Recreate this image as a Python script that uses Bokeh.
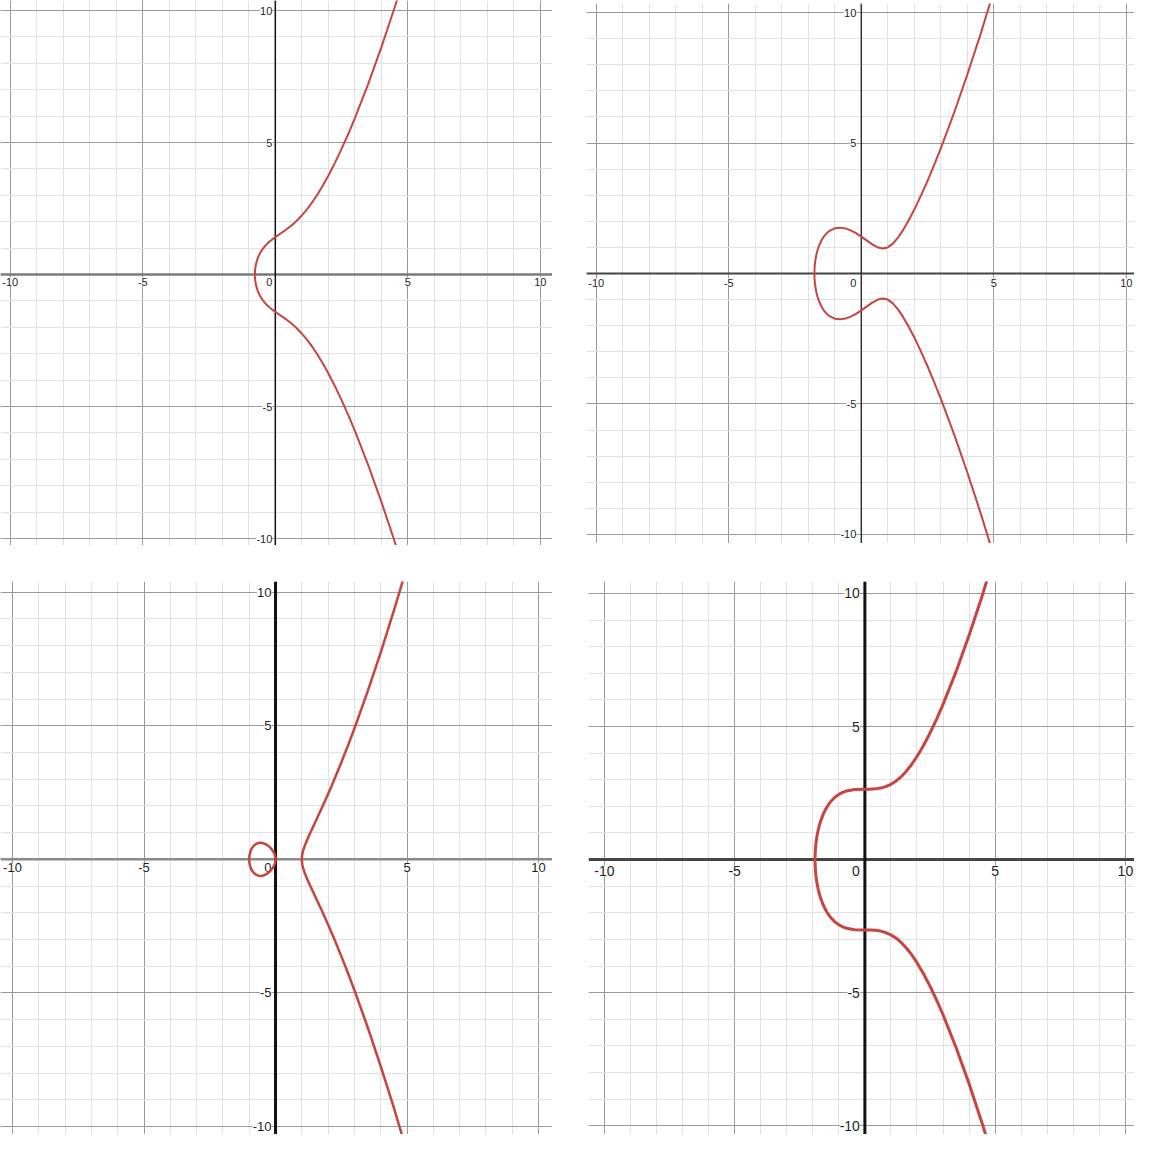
from bokeh.plotting import figure
from bokeh.models import Grid, SingleIntervalTicker, Span, LabelSet, ColumnDataSource, Spacer
from bokeh.layouts import column, row
from bokeh.core.properties import value
from bokeh.embed import file_html
from bokeh.resources import INLINE

# ---------------- data ----------------
# top-left curve (upper half; lower half is its mirror)
tl_x = [-0.771, -0.768, -0.76, -0.74, -0.70, -0.65, -0.6, -0.5, -0.4, -0.3, -0.2, -0.1, 0.0,
        0.2, 0.4, 0.6, 0.8, 1.0, 1.15, 1.3, 1.45, 1.6, 1.8, 2.0, 2.25, 2.5, 2.75, 3.0, 3.5, 4.0, 4.5, 4.8]
tl_y = [0.0, 0.105, 0.2025, 0.3388, 0.507, 0.6522, 0.7642, 0.9354, 1.0658, 1.1718, 1.2617, 1.3413, 1.4142,
        1.5518, 1.6923, 1.8483, 2.0278, 2.2361, 2.4127, 2.6071, 2.8194, 3.049, 3.3811, 3.7417, 4.2297, 4.7566,
        5.3195, 5.9161, 7.2024, 8.6023, 10.1057, 11.054]

# top-right curve
tr_x = [-1.7693, -1.768, -1.765, -1.755, -1.74, -1.70, -1.65, -1.6, -1.5, -1.4, -1.3, -1.2, -1.0, -0.8,
        -0.6, -0.4, -0.2, 0.0, 0.2, 0.4, 0.6, 0.8, 1.0, 1.2, 1.4, 1.6, 1.8, 2.0, 2.25, 2.5, 2.75, 3.0, 3.5,
        4.0, 4.5, 5.0]
tr_y = [0.0, 0.098, 0.1778, 0.3234, 0.4604, 0.6979, 0.8988, 1.0507, 1.2748, 1.4339, 1.5502, 1.6346, 1.7321, 1.7573,
        1.7274, 1.6541, 1.5466, 1.4142, 1.2681, 1.1243, 1.008, 0.955, 1.0, 1.1524, 1.3943, 1.7018, 2.0572, 2.4495,
        2.9817, 3.5532, 4.159, 4.7958, 6.1543, 7.6158, 9.172, 10.8167]

# bottom-left: closed loop (upper half) and right branch (upper half)
bl_loop_x = [-1.0, -0.995, -0.98, -0.95, -0.9, -0.8, -0.7, -0.6, -0.5774, -0.5, -0.4, -0.3, -0.2, -0.1,
             -0.05, -0.02, -0.005, 0.0]
bl_loop_y = [0.0, 0.0996, 0.197, 0.3043, 0.4135, 0.5367, 0.5975, 0.6197, 0.6204, 0.6124, 0.5797, 0.5225,
             0.4382, 0.3146, 0.2233, 0.1414, 0.0707, 0.0]
bl_branch_x = [1.0, 1.005, 1.02, 1.05, 1.1, 1.2, 1.3, 1.4, 1.5, 1.75, 2.0, 2.25, 2.5, 2.75, 3.0, 3.5, 4.0,
               4.5, 5.0]
bl_branch_y = [0.0, 0.1004, 0.203, 0.3281, 0.4806, 0.7266, 0.9471, 1.1593, 1.3693, 1.8999, 2.4495, 3.0234,
               3.6228, 4.2482, 4.899, 6.275, 7.746, 9.3073, 10.9545]

# bottom-right curve
br_x = [-1.9129, -1.912, -1.91, -1.90, -1.88, -1.85, -1.8, -1.75, -1.7, -1.6, -1.5, -1.4, -1.3, -1.15, -1.0,
        -0.85, -0.7, -0.4, 0.0, 0.2, 0.4, 0.6, 0.8, 1.0, 1.2, 1.4, 1.6, 1.8, 2.0, 2.25, 2.5, 2.75, 3.0, 3.5,
        4.0, 4.5, 5.0]
br_y = [0.0, 0.0994, 0.1792, 0.3755, 0.5961, 0.8175, 1.0807, 1.2809, 1.4446, 1.7041, 1.9039, 2.063, 2.1916,
        2.3407, 2.4495, 2.527, 2.5801, 2.6336, 2.6458, 2.6473, 2.6578, 2.6863, 2.7408, 2.8284, 2.9543, 3.1215,
        3.3311, 3.5822, 3.873, 4.2884, 4.7566, 5.2723, 5.831, 7.0622, 8.4261, 9.9058, 11.4891]

# tick labels
x_ticks = [-10, -5, 5, 10]
x_tick_labels = ["-10", "-5", "5", "10"]
y_ticks = [10, 5, -5, -10]
y_tick_labels = ["10", "5", "-5", "-10"]

RED = "#c74440"
FONT = "Liberation Sans"


def mirrored(xs, ys):
    """Path from the top end down through the x-axis and on to the bottom end."""
    px = list(reversed(xs)) + list(xs[1:])
    py = list(reversed(ys)) + [-v for v in ys[1:]]
    return px, py


def closed_loop(xs, ys):
    px = list(xs) + list(reversed(xs))[1:]
    py = list(ys) + [-v for v in reversed(ys)][1:]
    return px, py


def panel(w, h, xr, yr, paths, curve_w, fsize, xaxis_style, yaxis_style, xlab_dy, ylab_dx, zero_dx):
    p = figure(width=w, height=h, x_range=xr, y_range=yr, output_backend="svg",
               toolbar_location=None, x_axis_type=None, y_axis_type=None,
               min_border=0, outline_line_color=None, background_fill_color="white")
    for dim in (0, 1):
        g = Grid(dimension=dim, ticker=SingleIntervalTicker(interval=5, num_minor_ticks=5),
                 grid_line_color="#9a9a9a", grid_line_width=1,
                 minor_grid_line_color="#e1e1e1", minor_grid_line_width=1, level="underlay")
        p.add_layout(g)
    p.add_layout(Span(location=0, dimension="width", line_color=xaxis_style[0],
                      line_width=xaxis_style[1], level="underlay"))
    p.add_layout(Span(location=0, dimension="height", line_color=yaxis_style[0],
                      line_width=yaxis_style[1], level="underlay"))

    xs_src = ColumnDataSource(dict(x=x_ticks, y=[0] * len(x_ticks), text=x_tick_labels))
    ys_src = ColumnDataSource(dict(x=[0] * len(y_ticks), y=y_ticks, text=y_tick_labels))
    z_src = ColumnDataSource(dict(x=[0], y=[0], text=["0"]))
    common = dict(text_font=value(FONT), text_font_size=value(f"{fsize}px"), text_color="#1e1e1e",
                  background_fill_color="white", level="underlay")
    p.add_layout(LabelSet(x="x", y="y", text="text", source=xs_src, text_align="center",
                          text_baseline="top", y_offset=-xlab_dy, **common))
    p.add_layout(LabelSet(x="x", y="y", text="text", source=ys_src, text_align="right",
                          text_baseline="middle", x_offset=-ylab_dx, **common))
    p.add_layout(LabelSet(x="x", y="y", text="text", source=z_src, text_align="right",
                          text_baseline="top", x_offset=-zero_dx, y_offset=-xlab_dy, **common))

    for px, py in paths:
        p.line(px, py, line_color=RED, line_width=curve_w, line_join="round", line_cap="round")
    return p


# top-left: picture px 0..552 x 0..545
p1 = panel(552, 545, (-10.37, 10.46), (-10.265, 10.379), [mirrored(tl_x, tl_y)], 2.0, 11,
           ("#7a7a7a", 2.5), ("#111111", 1.5), 3, 3, 3)
# top-right: picture px 586..1134 x 3..543
p2 = panel(548, 540, (-10.37, 10.31), (-10.345, 10.345), [mirrored(tr_x, tr_y)], 2.0, 11,
           ("#444444", 1.8), ("#333333", 1.5), 5, 5, 5)
# bottom-left: picture px 0..552 x 581..1134
p3 = panel(552, 553, (-10.456, 10.53), (-10.3, 10.4),
           [closed_loop(bl_loop_x, bl_loop_y), mirrored(bl_branch_x, bl_branch_y)], 2.5, 13,
           ("#8a8a8a", 2.5), ("#111111", 3), 4, 4, 4)
# bottom-right: picture px 588..1134 x 581..1134
p4 = panel(546, 553, (-10.61, 10.35), (-10.33, 10.45), [mirrored(br_x, br_y)], 3.0, 14,
           ("#444444", 3), ("#111111", 3), 6, 5, 5)

layout = column(row(p1, Spacer(width=34), column(Spacer(height=3), p2)),
                Spacer(height=36),
                row(p3, Spacer(width=36), p4))

open("out.html", "w").write(file_html(layout, INLINE))
